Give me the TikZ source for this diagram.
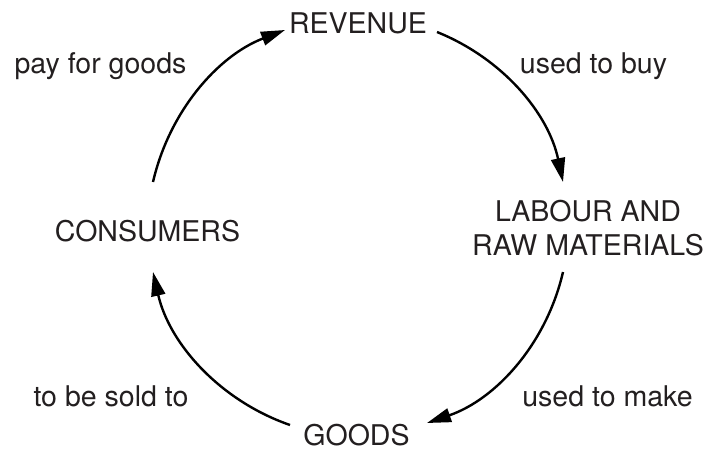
\documentclass[tikz,border=0pt]{standalone}
\usepackage{fontspec}
\setmainfont{TeX Gyre Heros}
\usetikzlibrary{arrows.meta}

\definecolor{inkgrey}{RGB}{35,31,32}

\tikzset{every picture/.style={line width=1.8pt}}
\tikzset{
  stage/.style={anchor=base,inner sep=0.75pt,text=inkgrey,font=\fontsize{21.4}{25}\selectfont},
  cyclelabel/.style={anchor=base,inner sep=0.75pt,text=inkgrey,font=\fontsize{21.4}{25}\selectfont},
  flow/.style={-{Triangle[length=18pt,width=10.5pt]},looseness=0.92}
}

\begin{document}
\begin{tikzpicture}[x=0.75pt,y=0.75pt,yscale=-1,xscale=1]
\useasboundingbox (0,0) rectangle (707,450);

% Text Node
\node[stage] (rev) at (358,33) {REVENUE};
% Text Node
\node[stage,align=center] (lab) at (588,255) {LABOUR AND\\RAW MATERIALS};
% Text Node
\node[stage] (goo) at (356.5,445) {GOODS};
% Text Node
\node[stage] (con) at (147.5,241) {CONSUMERS};

% Text Node
\node[cyclelabel] (buy) at (593.5,73) {used to buy};
% Text Node
\node[cyclelabel] (make) at (607.5,406) {used to make};
% Text Node
\node[cyclelabel] (sold) at (111,406) {to be sold to};
% Text Node
\node[cyclelabel] (pay) at (100.5,73) {pay for goods};

%ends of the arcs
\coordinate (revR) at (437,32);
\coordinate (labT) at (563,182);
\coordinate (labB) at (563,272);
\coordinate (gooR) at (427,423);
\coordinate (gooL) at (290,425);
\coordinate (conB) at (153,272);
\coordinate (conT) at (153,182);
\coordinate (revL) at (285,30);

%Curve Lines
\draw[flow] (revR) to[bend right=28] (labT);
\draw[flow] (labB) to[bend right=29] (gooR);
\draw[flow] (gooL) to[bend right=29] (conB);
\draw[flow] (conT) to[bend right=28] (revL);

\end{tikzpicture}
\end{document}
